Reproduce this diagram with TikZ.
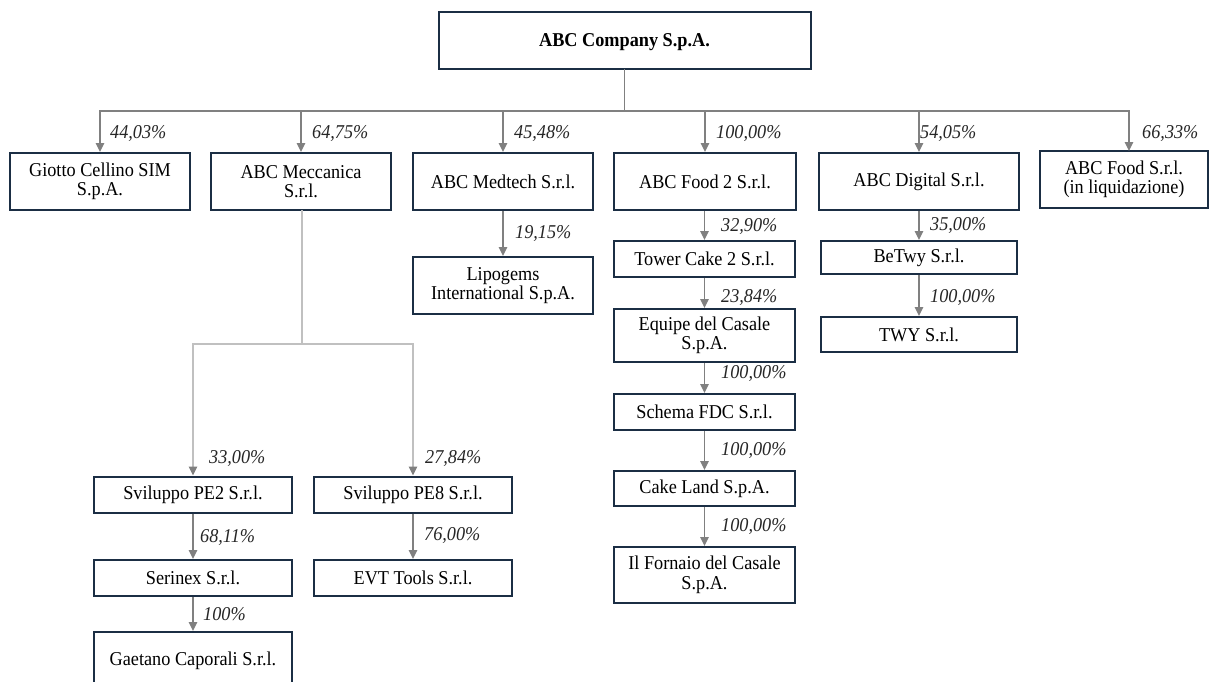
\documentclass[tikz,border=0pt]{standalone}
\usepackage{fontspec}
\setmainfont{Liberation Serif}[FakeStretch=0.93]
\usetikzlibrary{arrows.meta}
\definecolor{boxc}{HTML}{1B2E44}
\definecolor{arrc}{HTML}{808080}
\definecolor{lightc}{HTML}{C0C0C0}
\definecolor{labc}{HTML}{262626}
\begin{document}
\begin{tikzpicture}[x=1pt,y=-1pt,
 orgbox/.style={draw=boxc, line width=2pt, fill=white, align=center, inner sep=2pt,
   font=\fontsize{19.6}{19.5}\selectfont, text=black},
 arr/.style={draw=arrc, line width=1.6pt, -{Triangle[length=9pt,width=8.5pt]}},
 conn/.style={draw=arrc, line width=1.6pt, line cap=rect},
 lightconn/.style={draw=lightc, line width=1.3pt, line cap=rect},
 lightarr/.style={draw=lightc, line width=1.3pt, -{Triangle[length=9pt,width=8.5pt,color=arrc]}},
 pct/.style={font=\fontsize{19.6}{20}\selectfont\itshape, text=labc, anchor=west, inner sep=0pt}]
\useasboundingbox (0,0) rectangle (1209,682);

% top
\node[orgbox, minimum width=372pt, minimum height=57pt, text depth=0pt] (top) at (624.5,40.5) {\textbf{ABC Company S.p.A.}};

% level 1
\node[orgbox, minimum width=180pt, minimum height=57pt] (giotto) at (100,181.5) {Giotto Cellino SIM\\S.p.A.};
\node[orgbox, minimum width=180pt, minimum height=57pt] (mecc) at (301,181.5) {ABC Meccanica\\S.r.l.};
\node[orgbox, minimum width=180pt, minimum height=57pt] (medtech) at (503,181.5) {ABC Medtech S.r.l.};
\node[orgbox, minimum width=182pt, minimum height=57pt] (food2) at (705,181.5) {ABC Food 2 S.r.l.};
\node[orgbox, minimum width=200pt, minimum height=57pt] (digital) at (919,181.5) {ABC Digital S.r.l.};
\node[orgbox, minimum width=168pt, minimum height=57pt] (foodl) at (1124,179.5) {ABC Food S.r.l.\\(in liquidazione)};

\coordinate (bus) at (624.5,111);
\coordinate (flin) at (1129,151);
\draw[conn] (top.south) -- (bus);
\draw[conn] (giotto.north |- bus) -- (flin |- bus);
\draw[arr] (giotto.north |- bus) -- (giotto.north);
\draw[arr] (mecc.north |- bus) -- (mecc.north);
\draw[arr] (medtech.north |- bus) -- (medtech.north);
\draw[arr] (food2.north |- bus) -- (food2.north);
\draw[arr] (digital.north |- bus) -- (digital.north);
\draw[arr] (flin |- bus) -- (flin);

\node[pct] (p1) at (110,133) {44,03\%};
\node[pct] (p2) at (312,133) {64,75\%};
\node[pct] (p3) at (514,133) {45,48\%};
\node[pct] (p4) at (716,133) {100,00\%};
\node[pct] (p5) at (920,133) {54,05\%};
\node[pct] (p6) at (1142,133) {66,33\%};

% medtech column
\node[orgbox, minimum width=180pt, minimum height=57pt] (lipo) at (503,285.5) {Lipogems\\International S.p.A.};
\draw[arr] (medtech.south) -- (lipo.north);
\node[pct] (p7) at (515,233) {19,15\%};

% food2 column
\node[orgbox, minimum width=181pt, minimum height=36pt] (tower) at (704.5,259) {Tower Cake 2 S.r.l.};
\node[orgbox, minimum width=181pt, minimum height=53pt] (equipe) at (704.5,335.5) {Equipe del Casale\\S.p.A.};
\node[orgbox, minimum width=181pt, minimum height=36pt] (schema) at (704.5,412) {Schema FDC S.r.l.};
\node[orgbox, minimum width=181pt, minimum height=35pt] (cake) at (704.5,488.5) {Cake Land S.p.A.};
\node[orgbox, minimum width=181pt, minimum height=56pt] (fornaio) at (704.5,575) {Il Fornaio del Casale\\S.p.A.};
\draw[arr] (food2.south -| tower.north) -- (tower.north);
\draw[arr] (tower.south) -- (equipe.north);
\draw[arr] (equipe.south) -- (schema.north);
\draw[arr] (schema.south) -- (cake.north);
\draw[arr] (cake.south) -- (fornaio.north);
\node[pct] (p8) at (721,226) {32,90\%};
\node[pct] (p9) at (721,297) {23,84\%};
\node[pct] (p10) at (721,373) {100,00\%};
\node[pct] (p11) at (721,450) {100,00\%};
\node[pct] (p12) at (721,526) {100,00\%};

% digital column
\node[orgbox, minimum width=196pt, minimum height=33pt] (betwy) at (919,257.5) {BeTwy S.r.l.};
\node[orgbox, minimum width=196pt, minimum height=35pt] (twy) at (919,334.5) {TWY S.r.l.};
\draw[arr] (digital.south) -- (betwy.north);
\draw[arr] (betwy.south) -- (twy.north);
\node[pct] (p13) at (930,225) {35,00\%};
\node[pct] (p14) at (930,297) {100,00\%};

% meccanica branch
\node[orgbox, minimum width=198pt, minimum height=36pt] (pe2) at (193,494.5) {Sviluppo PE2 S.r.l.};
\node[orgbox, minimum width=198pt, minimum height=36pt] (pe8) at (413,494.5) {Sviluppo PE8 S.r.l.};
\node[orgbox, minimum width=198pt, minimum height=36pt] (serinex) at (193,578) {Serinex S.r.l.};
\node[orgbox, minimum width=198pt, minimum height=36pt] (evt) at (413,578) {EVT Tools S.r.l.};
\node[orgbox, minimum width=198pt, minimum height=58pt] (gaetano) at (193,661) {Gaetano Caporali S.r.l.};
\coordinate (mbus) at (302,344);
\draw[lightconn] (mecc.south -| mbus) -- (mbus);
\draw[lightconn] (pe2.north |- mbus) -- (pe8.north |- mbus);
\draw[lightarr] (pe2.north |- mbus) -- (pe2.north);
\draw[lightarr] (pe8.north |- mbus) -- (pe8.north);
\draw[arr] (pe2.south) -- (serinex.north);
\draw[arr] (pe8.south) -- (evt.north);
\draw[arr] (serinex.south) -- (gaetano.north);
\node[pct] (p15) at (209,458) {33,00\%};
\node[pct] (p16) at (425,458) {27,84\%};
\node[pct] (p17) at (200,537) {68,11\%};
\node[pct] (p18) at (424,535) {76,00\%};
\node[pct] (p19) at (203,614) {100\%};
\end{tikzpicture}
\end{document}
